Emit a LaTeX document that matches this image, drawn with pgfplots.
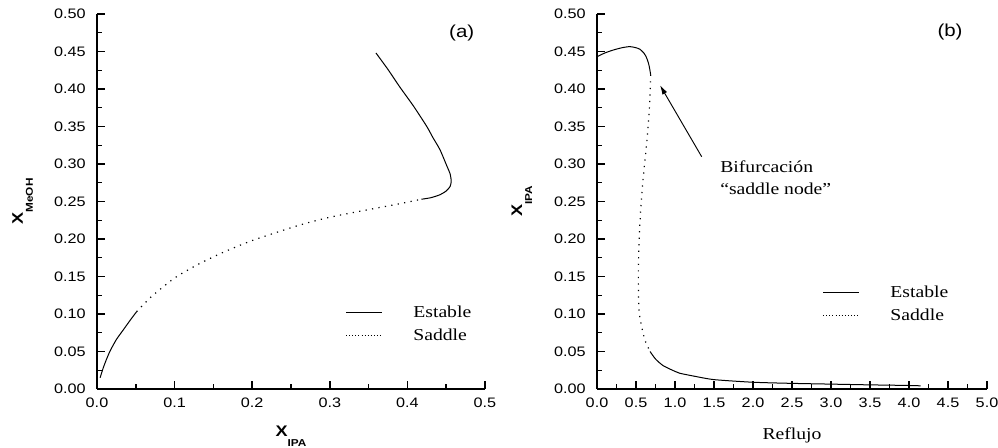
\documentclass[border=0pt]{standalone}
\usepackage{fontspec}
\setmainfont{Liberation Serif}[FakeStretch=1.18]
\setsansfont{Liberation Sans}[FakeStretch=1.18]
\usepackage{pgfplots}
\pgfplotsset{compat=1.18}
\usetikzlibrary{arrows.meta}

\pgfplotsset{
  panel/.style={
    scale only axis, height=281.25pt,
    axis x line=bottom, axis y line=left,
    axis line style={-, line width=1.5pt},
    tick align=inside,
    major tick length=6pt, minor tick length=3.5pt,
    tick style={black, line width=1.1pt},
    ymin=0, ymax=0.5,
    ytick={0,0.05,0.1,0.15,0.2,0.25,0.3,0.35,0.4,0.45,0.5},
    minor x tick num=1, minor y tick num=1,
    tick label style={font=\sffamily\fontsize{10.3}{12}\selectfont},
    /pgf/number format/assume math mode=true,
    yticklabel style={/pgf/number format/fixed, /pgf/number format/fixed zerofill,
      /pgf/number format/precision=2, xshift=-5pt},
    xticklabel style={/pgf/number format/fixed, /pgf/number format/fixed zerofill,
      /pgf/number format/precision=1, yshift=-3.5pt},
    xlabel style={anchor=base},
    ylabel style={anchor=base},
    clip=false,
    legend cell align=left,
    legend style={draw=none, fill=none, font=\fontsize{12.5}{15}\selectfont,
      anchor=north west, row sep=3pt,
      /tikz/every odd column/.append style={column sep=21pt}},
    legend image code/.code={\draw[#1] (0pt,0pt) -- (27pt,0pt);},
  },
  estable/.style={black, line width=0.75pt, smooth, tension=0.4},
  saddle/.style={black, line width=0.9pt, smooth, tension=0.4, dash pattern=on 0.9pt off 4pt},
}

\newcommand{\axlab}[1]{\textbf{X}\raisebox{-7.5pt}{\fontsize{7.5}{8}\selectfont\bfseries #1}}

\begin{document}
\begin{tikzpicture}
\path[use as bounding box] (0,0) rectangle (748.5pt,336pt);

% (a)
\begin{axis}[panel, width=291pt,
  at={(72.75pt,44.25pt)}, anchor=south west,
  xmin=0, xmax=0.5, xtick={0,0.1,0.2,0.3,0.4,0.5},
  xlabel={\axlab{IPA}},
  xlabel style={at={(axis description cs:0.5,-0.128)}, font=\sffamily\fontsize{11.5}{14}\selectfont},
  ylabel={\axlab{MeOH}},
  ylabel style={at={(axis description cs:-0.191,0.5)}, font=\sffamily\fontsize{11.5}{14}\selectfont},
  legend style={at={(axis cs:0.315,0.118)}},
]
\addplot[estable, forget plot] coordinates {
  (0.004,0.015) (0.008,0.028) (0.012,0.039) (0.017,0.051) (0.025,0.066)
  (0.034,0.079) (0.043,0.092) (0.051,0.103)
};
\addplot[saddle, forget plot] coordinates {
  (0.051,0.103) (0.07,0.123) (0.1,0.148) (0.13,0.166) (0.16,0.181)
  (0.2,0.198) (0.2616,0.2187) (0.3,0.229) (0.3475,0.2387) (0.39,0.247) (0.418,0.253)
};
\addplot[estable, forget plot] coordinates {
  (0.418,0.253) (0.43,0.255) (0.442,0.259) (0.450,0.264) (0.455,0.270)
  (0.4565,0.277) (0.455,0.287) (0.451,0.297) (0.442,0.319) (0.433,0.335)
  (0.425,0.350) (0.408,0.377) (0.390,0.403) (0.375,0.426) (0.3595,0.448)
};
\addlegendimage{black, line width=0.75pt}
\addlegendentry{Estable}
\addlegendimage{black, line width=0.75pt, dash pattern=on 0.6pt off 1.7pt}
\addlegendentry{Saddle}
\node[font=\sffamily\fontsize{13}{15}\selectfont] at (axis cs:0.470,0.475) {(a)};
\end{axis}

% (b)
\begin{axis}[panel, width=292.5pt,
  at={(447.75pt,44.25pt)}, anchor=south west,
  xmin=0, xmax=5, xtick={0,0.5,1,1.5,2,2.5,3,3.5,4,4.5,5},
  xlabel={Reflujo},
  xlabel style={at={(axis description cs:0.5,-0.136)}, font=\fontsize{12.5}{15}\selectfont},
  ylabel={\axlab{IPA}},
  ylabel style={at={(axis description cs:-0.192,0.5)}, font=\sffamily\fontsize{11.5}{14}\selectfont},
  legend style={at={(axis cs:2.84,0.145)}},
]
\addplot[estable, forget plot] coordinates {
  (0,0.443) (0.1,0.448) (0.21,0.452) (0.32,0.455) (0.42,0.4565) (0.5,0.455)
  (0.55,0.453) (0.6,0.448) (0.63,0.443) (0.655,0.436) (0.67,0.43) (0.68,0.424) (0.688,0.419)
};
\addplot[saddle, forget plot] coordinates {
  (0.688,0.419) (0.68,0.395) (0.67,0.372) (0.637,0.328) (0.594,0.283) (0.56,0.239)
  (0.538,0.194) (0.53,0.150) (0.538,0.105) (0.573,0.083) (0.615,0.065) (0.68,0.050)
};
\addplot[estable, forget plot] coordinates {
  (0.68,0.050) (0.75,0.040) (0.85,0.031) (1.0,0.0235) (1.06,0.021) (1.25,0.017)
  (1.5,0.0125) (2.0,0.009) (2.5,0.0075) (3.0,0.0065) (3.5,0.0055) (4.0,0.0047) (4.15,0.0042)
};
\addlegendimage{black, line width=0.75pt}
\addlegendentry{Estable}
\addlegendimage{black, line width=0.75pt, dash pattern=on 0.6pt off 1.7pt}
\addlegendentry{Saddle}
\node[font=\sffamily\fontsize{13}{15}\selectfont] at (axis cs:4.526,0.476) {(b)};
\draw[line width=0.7pt, -{Latex[length=7pt,width=4pt]}] (axis cs:1.342,0.3097) -- (axis cs:0.808,0.405);
\node[anchor=base west, inner sep=0pt, font=\fontsize{12.5}{15}\selectfont] at (axis cs:1.577,0.288) {Bifurcación};
\node[anchor=base west, inner sep=0pt, font=\fontsize{12.5}{15}\selectfont] at (axis cs:1.577,0.2587) {“saddle node”};
\end{axis}
\end{tikzpicture}
\end{document}
